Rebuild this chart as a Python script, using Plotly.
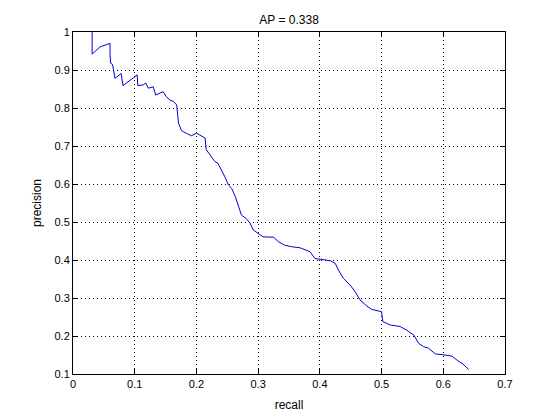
import plotly.graph_objects as go

# precision-recall curve values
recall = [0.031, 0.031, 0.044, 0.060, 0.060, 0.061, 0.064, 0.068, 0.078, 0.081,
          0.104, 0.105, 0.114, 0.118, 0.122, 0.130, 0.134, 0.146, 0.151, 0.157,
          0.163, 0.168, 0.171, 0.176, 0.184, 0.192, 0.200, 0.208, 0.214, 0.216,
          0.222, 0.230, 0.235, 0.241, 0.246, 0.252, 0.257, 0.263, 0.268, 0.273,
          0.280, 0.287, 0.292, 0.300, 0.308, 0.325, 0.333, 0.343, 0.354, 0.368,
          0.379, 0.384, 0.392, 0.409, 0.417, 0.425, 0.430, 0.438, 0.449, 0.457,
          0.465, 0.476, 0.484, 0.500, 0.502, 0.514, 0.530, 0.540, 0.552, 0.560,
          0.568, 0.576, 0.587, 0.603, 0.614, 0.622, 0.632, 0.641]
precision = [1.000, 0.942, 0.961, 0.970, 0.941, 0.918, 0.915, 0.878, 0.891, 0.859,
             0.887, 0.859, 0.861, 0.866, 0.852, 0.856, 0.834, 0.843, 0.830, 0.821,
             0.817, 0.808, 0.760, 0.740, 0.733, 0.727, 0.734, 0.726, 0.721, 0.690,
             0.676, 0.659, 0.654, 0.637, 0.619, 0.597, 0.589, 0.567, 0.540, 0.518,
             0.510, 0.497, 0.479, 0.470, 0.461, 0.460, 0.448, 0.439, 0.435, 0.432,
             0.426, 0.422, 0.404, 0.400, 0.398, 0.391, 0.374, 0.352, 0.334, 0.317,
             0.295, 0.279, 0.270, 0.264, 0.238, 0.229, 0.225, 0.216, 0.203, 0.181,
             0.172, 0.168, 0.153, 0.150, 0.147, 0.137, 0.126, 0.112]
ap = 0.338

fig = go.Figure()
fig.add_trace(go.Scatter(x=recall, y=precision, mode='lines',
                         line=dict(color='#0000d8', width=1), showlegend=False))

# matlab-ish axes: boxed, ticks inside, sparse dotted grid
axis_style = dict(showline=True, linecolor='black', linewidth=1, mirror='ticks',
                  ticks='inside', ticklen=5, tickcolor='black',
                  showgrid=True, gridcolor='black', gridwidth=1, griddash='1px,3px',
                  zeroline=False, tickfont=dict(size=11, color='black'),
                  title_font=dict(size=12, color='black'))

fig.update_xaxes(range=[0, 0.7], dtick=0.1, tick0=0, title_text='recall',
                 title_standoff=11, **axis_style)
fig.update_yaxes(range=[0.1, 1], dtick=0.1, tick0=0.1, title_text='precision',
                 title_standoff=10, **axis_style)

# page body adds 8px, so margins are shifted by that
fig.update_layout(
    width=560, height=420,
    title=dict(text=f'AP = {ap}', x=0.502, xanchor='center', y=0.971, yanchor='middle',
               font=dict(size=12, color='black')),
    font=dict(family='Liberation Sans, Arial, sans-serif', color='black'),
    plot_bgcolor='white', paper_bgcolor='white',
    margin=dict(l=65, r=63, t=24, b=54),
)

fig.write_html("out.html")
